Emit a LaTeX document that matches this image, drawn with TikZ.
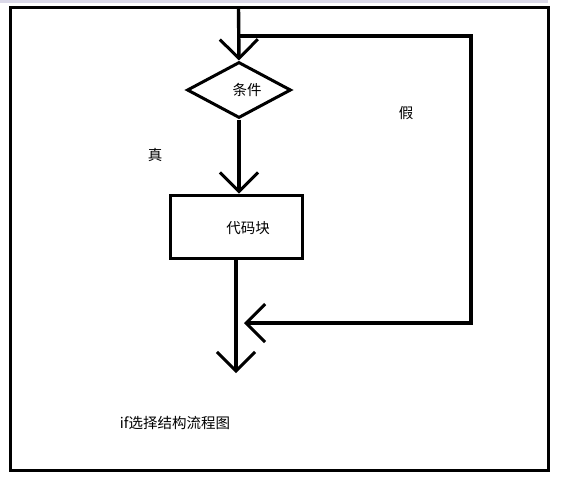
\documentclass[tikz,border=0pt]{standalone}
\usepackage{fontspec}
\newfontfamily\cjk{Noto Sans CJK SC}
\usetikzlibrary{shapes.geometric,arrows.meta}
\definecolor{band}{RGB}{218,216,232}
\tikzset{
  thick line/.style={line width=3.4pt, draw=black},
  frameline/.style={line width=3pt, draw=black},
  barb/.style={-{Straight Barb[length=19pt,width=38pt,line width=3pt]}},
  lbl/.style={font=\cjk\fontsize{14.5}{16}\selectfont, inner sep=0pt},
  decision/.style={diamond, draw=black, line width=3pt, minimum width=104pt, minimum height=56pt, aspect=1.86, inner sep=0pt},
  block/.style={rectangle, draw=black, line width=3pt, minimum width=132pt, minimum height=63pt, inner sep=0pt}
}
\begin{document}
\begin{tikzpicture}[x=1pt,y=-1pt]
\useasboundingbox (0,0) rectangle (581,498);
\fill[band] (0,0) rectangle (548,2.5);
\draw[frameline] (10,7) rectangle (548,470);
\node[decision] (cond) at (239,90) {};
\node[lbl] (condtxt) at (247,90) {条件};
\node[block] (code) at (236,226.5) {};
\node[lbl] (codetxt) at (248,228) {代码块};
\node[lbl] (true) at (155,155) {真};
\node[lbl] (false) at (406,113) {假};
\node[lbl] (title) at (175,423) {if选择结构流程图};
\coordinate (start) at (238.5,7);
\coordinate (split) at (238.5,36);
\coordinate (endpt) at (236,373);
\draw[thick line, barb] (start) -- (cond.north);
\draw[thick line, barb] (split) -- (471,36) -- (471,323) -- (244,323);
\draw[thick line, barb] (cond.south) -- (cond.south |- code.north);
\draw[thick line, barb] (code.south) -- (endpt);
\end{tikzpicture}
\end{document}
